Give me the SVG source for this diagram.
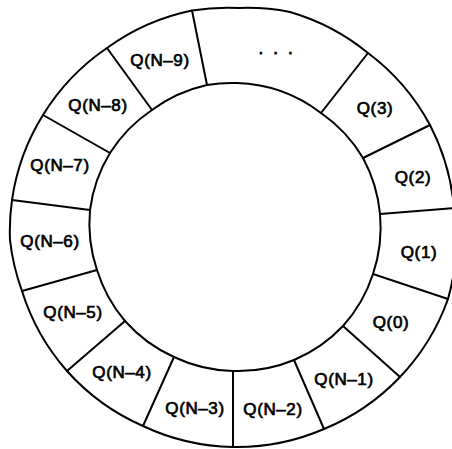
<svg xmlns="http://www.w3.org/2000/svg" width="452" height="449" viewBox="0 0 452 449">
  <style>
    .ring { fill: none; stroke: #000; stroke-width: 2; stroke-linejoin: round; }
    .div { stroke: #000; stroke-width: 2; stroke-linecap: round; }
    .lbl { font-family: "Liberation Sans", Arial, sans-serif; font-size: 17px; letter-spacing: 0.6px; fill: #000; stroke: #000; stroke-width: 0.7; text-anchor: middle; }
    .dots { font-family: "Liberation Sans", Arial, sans-serif; font-size: 17px; letter-spacing: 10px; fill: #000; stroke: #000; stroke-width: 0.8; }
  </style>
  <rect width="452" height="449" fill="#fff"/>

  <!-- circular queue: outer and inner boundary, traced through the slot corners -->
  <g id="ring">
    <path class="ring" d="M192 10.5 A220 220 0 0 1 240 8 A220 220 0 0 1 290 12 A220 220 0 0 1 368 53 A220 220 0 0 1 430 125 A220 220 0 0 1 454 208 A220 220 0 0 1 448 299 A220 220 0 0 1 400 377 A220 220 0 0 1 324 429 A220 220 0 0 1 233 447 A220 220 0 0 1 143 426 A220 220 0 0 1 67 371 A220 220 0 0 1 22 291 A220 220 0 0 1 10 240 A220 220 0 0 1 12 200 A220 220 0 0 1 43 115 A220 220 0 0 1 107 48 A220 220 0 0 1 192 10.5 Z"/>
    <path class="ring" d="M207 85 A145 145 0 0 1 237 83 A145 145 0 0 1 321 113 A145 145 0 0 1 363 158 A145 145 0 0 1 380 214 A145 145 0 0 1 373 274 A145 145 0 0 1 343 326 A145 145 0 0 1 294 360 A145 145 0 0 1 233 371 A145 145 0 0 1 174 357 A145 145 0 0 1 125 321 A145 145 0 0 1 97 270 A145 145 0 0 1 90 210 A145 145 0 0 1 110 153 A145 145 0 0 1 152 110 A145 145 0 0 1 207 85 Z"/>
  </g>

  <!-- slot dividers (inner corner to outer corner) -->
  <g id="dividers">
    <line class="div" x1="207" y1="85" x2="192" y2="10.5"/>
    <line class="div" x1="152" y1="110" x2="107" y2="48"/>
    <line class="div" x1="110" y1="153" x2="43" y2="115"/>
    <line class="div" x1="90" y1="210" x2="12" y2="200"/>
    <line class="div" x1="97" y1="270" x2="22" y2="291"/>
    <line class="div" x1="125" y1="321" x2="67" y2="371"/>
    <line class="div" x1="174" y1="357" x2="143" y2="426"/>
    <line class="div" x1="233" y1="371" x2="233" y2="447"/>
    <line class="div" x1="294" y1="360" x2="324" y2="429"/>
    <line class="div" x1="343" y1="326" x2="400" y2="377"/>
    <line class="div" x1="373" y1="274" x2="448" y2="299"/>
    <line class="div" x1="380" y1="214" x2="454" y2="208"/>
    <line class="div" x1="363" y1="158" x2="430" y2="125"/>
    <line class="div" x1="321" y1="113" x2="368" y2="53"/>
  </g>

  <!-- slot labels -->
  <g id="slot-gap"><text class="dots" x="258.5" y="54">...</text></g>
  <g id="slot-3"><text class="lbl" x="375" y="114">Q(3)</text></g>
  <g id="slot-2"><text class="lbl" x="413" y="183">Q(2)</text></g>
  <g id="slot-1"><text class="lbl" x="419" y="258">Q(1)</text></g>
  <g id="slot-0"><text class="lbl" x="391" y="328">Q(0)</text></g>
  <g id="slot-n1"><text class="lbl" x="344" y="385">Q(N–1)</text></g>
  <g id="slot-n2"><text class="lbl" x="273" y="415">Q(N–2)</text></g>
  <g id="slot-n3"><text class="lbl" x="195" y="414">Q(N–3)</text></g>
  <g id="slot-n4"><text class="lbl" x="122" y="378">Q(N–4)</text></g>
  <g id="slot-n5"><text class="lbl" x="73" y="318">Q(N–5)</text></g>
  <g id="slot-n6"><text class="lbl" x="50" y="247">Q(N–6)</text></g>
  <g id="slot-n7"><text class="lbl" x="60" y="171">Q(N–7)</text></g>
  <g id="slot-n8"><text class="lbl" x="98" y="111">Q(N–8)</text></g>
  <g id="slot-n9"><text class="lbl" x="160" y="66">Q(N–9)</text></g>
</svg>
